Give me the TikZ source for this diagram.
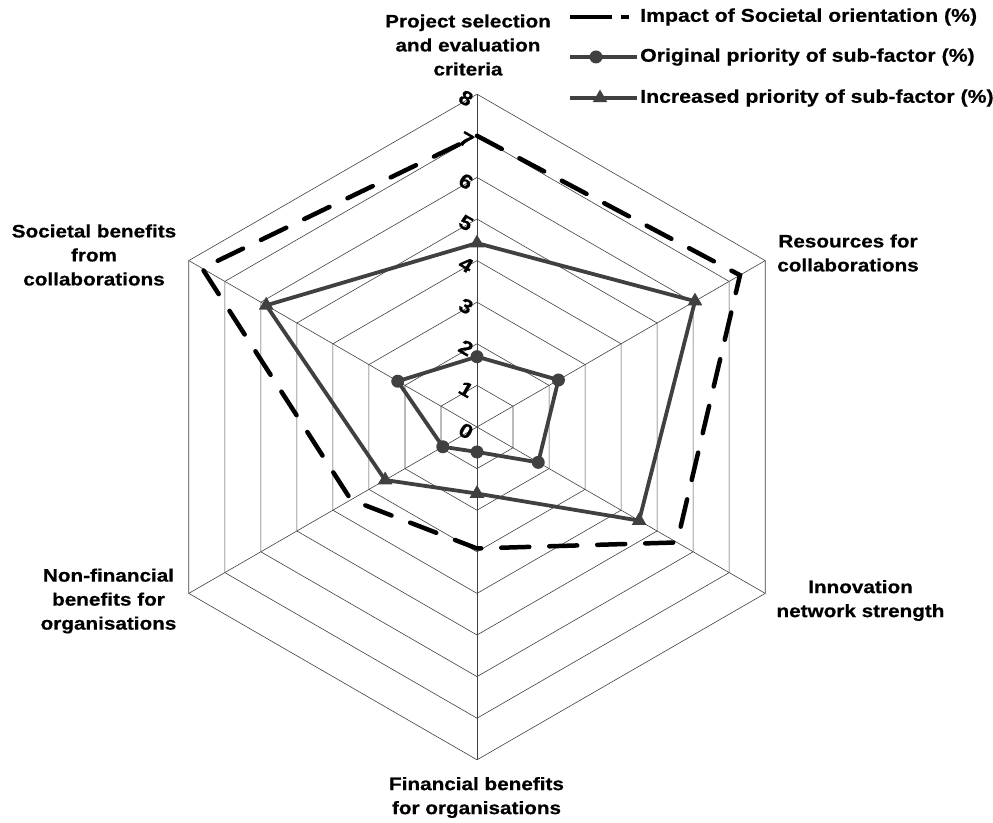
\documentclass[tikz,border=0pt]{standalone}
\usepackage{fontspec}
\newfontfamily\lblfont{Liberation Sans}[FakeStretch=1.15,BoldFeatures={FakeBold=0.6}]
\usetikzlibrary{shapes.geometric}
\begin{document}
\begin{tikzpicture}[x=1pt,y=1pt,
  grid/.style={draw=black!75,line width=0.6pt},
  impact/.style={draw=black,line width=4.5pt,line cap=round,dash pattern=on 28pt off 20pt},
  series/.style={draw=black!75,line width=3.8pt,line join=round},
  dotmark/.style={circle,fill=black!75,inner sep=0pt,minimum size=13pt},
  trimark/.style={regular polygon,regular polygon sides=3,fill=black!75,inner sep=0pt,minimum size=17pt},
  lbl/.style={font={\lblfont\bfseries\fontsize{18}{24}\selectfont},align=center,inner sep=0pt},
  ticklbl/.style={font={\lblfont\bfseries\fontsize{20}{22}\selectfont},inner sep=0pt,rotate=-30},
  legtxt/.style={font={\lblfont\bfseries\fontsize{18.5}{20}\selectfont},anchor=west,inner sep=0pt}
]
\useasboundingbox (0,0) rectangle (993,822);
\coordinate (C) at (477,395);
\def\unit{41.6}

% hexagonal grid, one ring per unit
\foreach \k in {1,...,8}{
  \pgfmathsetmacro\r{\k*\unit}
  \draw[grid] (C) ++(90:\r) -- ++(-30:\r) -- ++(-90:\r) -- ++(-150:\r)
    -- ++(150:\r) -- ++(90:\r) -- cycle;
}
% spokes
\foreach \a in {90,30,-30,-90,210,150}{
  \draw[grid] (C) -- ++(\a:8*\unit);
}

% data points on the six axes (clockwise from the top)
\foreach \v [count=\i] in {7,7.3,5.55,2.92,3.5,7.63}{
  \pgfmathsetmacro\ang{150-60*\i}\pgfmathsetmacro\rr{\v*\unit}
  \path (C) ++(\ang:\rr) coordinate (imp\i);
}
\foreach \v [count=\i] in {1.69,2.26,1.7,0.6,0.95,2.2}{
  \pgfmathsetmacro\ang{150-60*\i}\pgfmathsetmacro\rr{\v*\unit}
  \path (C) ++(\ang:\rr) coordinate (org\i);
}
\foreach \v [count=\i] in {4.42,6.05,4.5,1.6,2.55,5.85}{
  \pgfmathsetmacro\ang{150-60*\i}\pgfmathsetmacro\rr{\v*\unit}
  \path (C) ++(\ang:\rr) coordinate (inc\i);
}

% series
\draw[impact] (imp1) -- (imp2) -- (imp3) -- (imp4) -- (imp5) -- (imp6) -- cycle;
\draw[series] (org1) -- (org2) -- (org3) -- (org4) -- (org5) -- (org6) -- cycle;
\draw[series] (inc1) -- (inc2) -- (inc3) -- (inc4) -- (inc5) -- (inc6) -- cycle;
\foreach \i in {1,...,6}{
  \node[dotmark] (od\i) at (org\i) {};
  \node[trimark] (it\i) at (inc\i) {};
}

% scale values
\foreach \k in {0,...,8}{
  \pgfmathsetmacro\ty{395+\k*\unit-4}
  \node[ticklbl] (t\k) at (466,\ty) {\k};
}

% axis titles
\node[lbl] (ax1) at (468,777) {Project selection\\and evaluation\\criteria};
\node[lbl] (ax2) at (848,569) {Resources for\\collaborations};
\node[lbl] (ax3) at (860.5,221.5) {Innovation\\network strength};
\node[lbl] (ax4) at (476.5,24.5) {Financial benefits\\for organisations};
\node[lbl] (ax5) at (108.5,221) {Non-financial\\benefits for\\organisations};
\node[lbl] (ax6) at (94,567) {Societal benefits\\from\\collaborations};

% legend
\coordinate (l1a) at (570,805); \coordinate (l1b) at (612,805);
\coordinate (l1c) at (621,805); \coordinate (l1d) at (629,805);
\draw[black,line width=4.5pt] (l1a) -- (l1b) (l1c) -- (l1d);
\node[legtxt] (lt1) at (640,805) {Impact of Societal orientation (\%)};
\coordinate (l2a) at (570,765); \coordinate (l2b) at (637,765);
\draw[series] (l2a) -- (l2b);
\node[dotmark] (lm2) at (596,765) {};
\node[legtxt] (lt2) at (640,765) {Original priority of sub-factor (\%)};
\coordinate (l3a) at (570,724); \coordinate (l3b) at (637,724);
\draw[series] (l3a) -- (l3b);
\node[trimark] (lm3) at (600,724) {};
\node[legtxt] (lt3) at (640,724) {Increased priority of sub-factor (\%)};
\end{tikzpicture}
\end{document}
